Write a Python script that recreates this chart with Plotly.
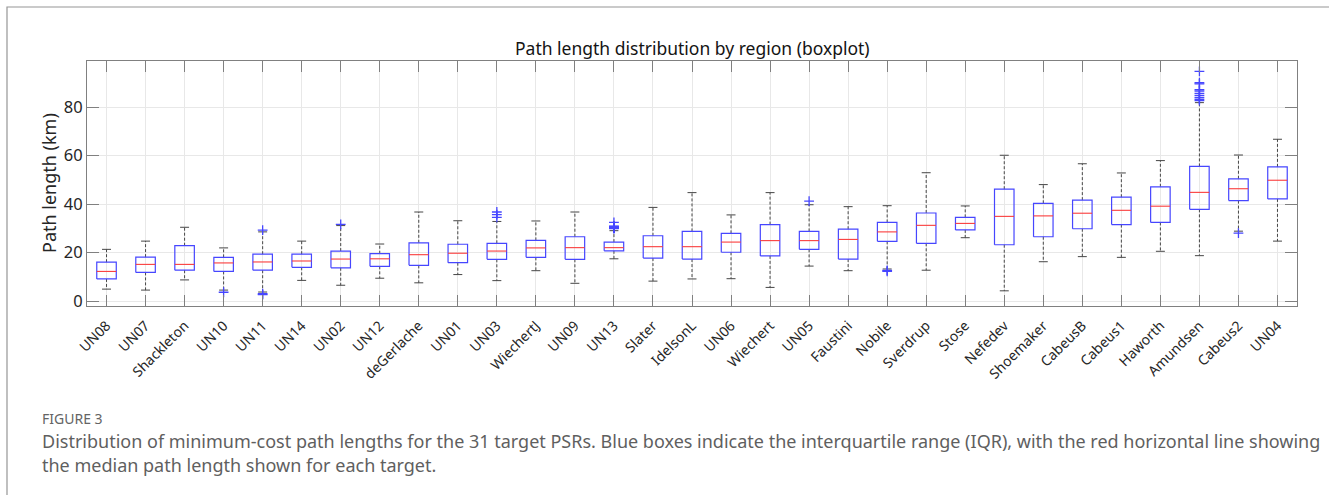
import plotly.graph_objects as go

# ---- data: path-length summary statistics per region (km) ----
regions = ["UN08", "UN07", "Shackleton", "UN10", "UN11", "UN14", "UN02", "UN12",
           "deGerlache", "UN01", "UN03", "WiechertJ", "UN09", "UN13", "Slater",
           "IdelsonL", "UN06", "Wiechert", "UN05", "Faustini", "Nobile", "Sverdrup",
           "Stose", "Nefedev", "Shoemaker", "CabeusB", "Cabeus1", "Haworth",
           "Amundsen", "Cabeus2", "UN04"]

lower_whisker = [4.9, 4.5, 8.7, 4.5, 3.7, 8.5, 6.5, 9.4, 7.5, 10.9, 8.4, 12.5, 7.3, 17.4, 8.2,
                 9.1, 9.2, 5.6, 14.4, 12.5, 13.2, 12.7, 26.1, 4.2, 16.2, 18.3, 18.0, 20.5,
                 18.7, 28.8, 24.7]
q1 = [9.1, 11.8, 12.7, 12.2, 12.7, 13.9, 13.7, 14.3, 14.7, 15.8, 17.2, 18.0, 17.2, 20.7, 17.7,
      17.3, 20.1, 18.6, 21.3, 17.3, 24.6, 23.8, 29.3, 23.2, 26.5, 29.8, 31.5, 32.4,
      37.8, 41.4, 42.1]
medians = [12.2, 15.1, 15.1, 15.7, 16.1, 16.5, 17.3, 17.4, 19.1, 19.7, 20.6, 21.9, 22.0, 22.0, 22.4,
           22.4, 24.3, 24.9, 24.9, 25.4, 28.5, 31.2, 32.0, 34.9, 35.1, 36.2, 37.4, 39.1,
           44.8, 46.3, 49.8]
q3 = [16.0, 18.1, 22.8, 18.0, 19.3, 19.3, 20.6, 19.5, 24.0, 23.4, 23.8, 25.0, 26.5, 24.3, 26.9,
      28.7, 27.9, 31.5, 28.7, 29.6, 32.4, 36.3, 34.5, 46.1, 40.3, 41.6, 42.8, 47.1,
      55.5, 50.4, 55.3]
upper_whisker = [21.3, 24.7, 30.4, 21.9, 28.5, 24.7, 31.1, 23.5, 36.7, 33.1, 32.8, 33.0, 36.7, 29.0, 38.6,
                 44.7, 35.5, 44.7, 39.7, 38.9, 39.3, 52.9, 39.2, 60.1, 48.0, 56.6, 52.8, 57.9,
                 81.8, 60.2, 66.7]

outlier_regions = ["UN10", "UN11", "UN11", "UN11", "UN02", "UN03", "UN03", "UN03",
                   "UN13", "UN13", "UN13", "UN13", "UN13", "UN13", "UN13", "UN13",
                   "UN13", "UN13", "UN13", "UN13",
                   "UN05", "Nobile", "Nobile",
                   "Amundsen", "Amundsen", "Amundsen", "Amundsen", "Amundsen",
                   "Amundsen", "Amundsen", "Amundsen", "Amundsen", "Amundsen",
                   "Cabeus2"]
outlier_values = [3.6, 29.2, 3.0, 2.6, 31.6, 34.5, 35.6, 36.7,
                  29.9, 30.0, 30.1, 30.2, 30.3, 30.4, 30.5, 30.6, 30.7, 30.8, 30.9, 32.4,
                  41.2, 12.6, 12.2,
                  94.7, 90.0, 89.5, 87.2, 86.6, 85.6, 84.8, 84.0, 83.2, 82.6,
                  28.0]

# ---- styling ----
W, H = 1329, 495
PLOT_L, PLOT_R, PLOT_T, PLOT_B = 87, 1297, 61, 306
BOX_HALF = 0.25      # half box width, in category units
CAP_HALF = 0.115     # half whisker-cap width
BOX_COLOR = "rgb(70,70,255)"
MEDIAN_COLOR = "rgb(250,60,60)"
WHISKER_COLOR = "rgb(70,70,70)"
AXIS_COLOR = "rgb(128,128,128)"
GRID_COLOR = "rgb(232,232,232)"
TEXT_COLOR = "rgb(38,38,38)"
FONT = "Noto Sans"
CAPTION_FONT = "Noto Sans"


def px_x(px):
    return (px - PLOT_L) / (PLOT_R - PLOT_L)


def px_y(py):
    return (PLOT_B - py) / (PLOT_B - PLOT_T)


pos = {name: i + 1 for i, name in enumerate(regions)}

box_x, box_y = [], []
med_x, med_y = [], []
wh_x, wh_y = [], []
cap_x, cap_y = [], []
for name, lo, a, m, b, hi in zip(regions, lower_whisker, q1, medians, q3, upper_whisker):
    c = pos[name]
    box_x += [c - BOX_HALF, c + BOX_HALF, c + BOX_HALF, c - BOX_HALF, c - BOX_HALF, None]
    box_y += [a, a, b, b, a, None]
    med_x += [c - BOX_HALF, c + BOX_HALF, None]
    med_y += [m, m, None]
    wh_x += [c, c, None, c, c, None]
    wh_y += [b, hi, None, a, lo, None]
    cap_x += [c - CAP_HALF, c + CAP_HALF, None, c - CAP_HALF, c + CAP_HALF, None]
    cap_y += [hi, hi, None, lo, lo, None]

fig = go.Figure()
fig.add_trace(go.Scatter(x=wh_x, y=wh_y, mode="lines",
                         line=dict(color=WHISKER_COLOR, width=1, dash="3px,2px"),
                         hoverinfo="skip", showlegend=False))
fig.add_trace(go.Scatter(x=cap_x, y=cap_y, mode="lines",
                         line=dict(color=WHISKER_COLOR, width=1),
                         hoverinfo="skip", showlegend=False))
fig.add_trace(go.Scatter(x=box_x, y=box_y, mode="lines",
                         line=dict(color=BOX_COLOR, width=1.2),
                         hoverinfo="skip", showlegend=False))
fig.add_trace(go.Scatter(x=med_x, y=med_y, mode="lines",
                         line=dict(color=MEDIAN_COLOR, width=1.1),
                         hoverinfo="skip", showlegend=False))
fig.add_trace(go.Scatter(x=[pos[r] for r in outlier_regions], y=outlier_values,
                         mode="markers",
                         marker=dict(symbol="cross-thin", size=7,
                                     line=dict(color=BOX_COLOR, width=1.3)),
                         showlegend=False))

fig.update_xaxes(range=[0.5, len(regions) + 0.5],
                 tickvals=list(range(1, len(regions) + 1)), ticktext=regions,
                 tickangle=-45, ticks="inside", ticklen=11, tickcolor=AXIS_COLOR,
                 ticklabelstandoff=5,
                 showline=True, linecolor=AXIS_COLOR, linewidth=1, mirror="ticks",
                 showgrid=True, gridcolor=GRID_COLOR, zeroline=False,
                 tickfont=dict(family=FONT, size=14, color=TEXT_COLOR))
fig.update_yaxes(range=[-2.06, 98.97], tickvals=[0, 20, 40, 60, 80],
                 ticks="inside", ticklen=12, tickcolor=AXIS_COLOR,
                 showline=True, linecolor=AXIS_COLOR, linewidth=1, mirror="ticks",
                 showgrid=True, gridcolor=GRID_COLOR, zeroline=False,
                 tickfont=dict(family=FONT, size=16.5, color=TEXT_COLOR))

annotations = [
    dict(text="Path length distribution by region (boxplot)", x=0.5, y=px_y(48),
         xref="paper", yref="paper", showarrow=False, xanchor="center", yanchor="middle",
         font=dict(family=FONT, size=17.5, color="rgb(20,20,20)")),
    dict(text="Path length (km)", textangle=-90, x=px_x(49), y=px_y(183),
         xref="paper", yref="paper", showarrow=False, xanchor="center", yanchor="middle",
         font=dict(family=FONT, size=18, color=TEXT_COLOR)),
    dict(text="FIGURE 3", x=px_x(40), y=px_y(418), xref="paper", yref="paper",
         showarrow=False, xanchor="left", yanchor="middle",
         font=dict(family=CAPTION_FONT, size=14, color="rgb(100,100,100)")),
    dict(text="Distribution of minimum-cost path lengths for the 31 target PSRs. Blue boxes indicate "
              "the interquartile range (IQR), with the red horizontal line showing",
         x=px_x(40), y=px_y(441), xref="paper", yref="paper", showarrow=False,
         xanchor="left", yanchor="middle",
         font=dict(family=CAPTION_FONT, size=18, color="rgb(95,95,95)")),
    dict(text="the median path length shown for each target.",
         x=px_x(40), y=px_y(465), xref="paper", yref="paper", showarrow=False,
         xanchor="left", yanchor="middle",
         font=dict(family=CAPTION_FONT, size=18, color="rgb(95,95,95)")),
]

# card border along the left and top edges of the figure
frame = dict(type="path", xref="paper", yref="paper",
             path=f"M {px_x(7)} {px_y(H + 5)} L {px_x(7)} {px_y(7)} L {px_x(W + 5)} {px_y(7)}",
             line=dict(color="rgb(150,150,150)", width=1.2))

fig.update_layout(width=W, height=H,
                  margin=dict(l=PLOT_L, r=W - PLOT_R, t=PLOT_T, b=H - PLOT_B),
                  paper_bgcolor="white", plot_bgcolor="white",
                  annotations=annotations, shapes=[frame])

fig.write_html("out.html")
